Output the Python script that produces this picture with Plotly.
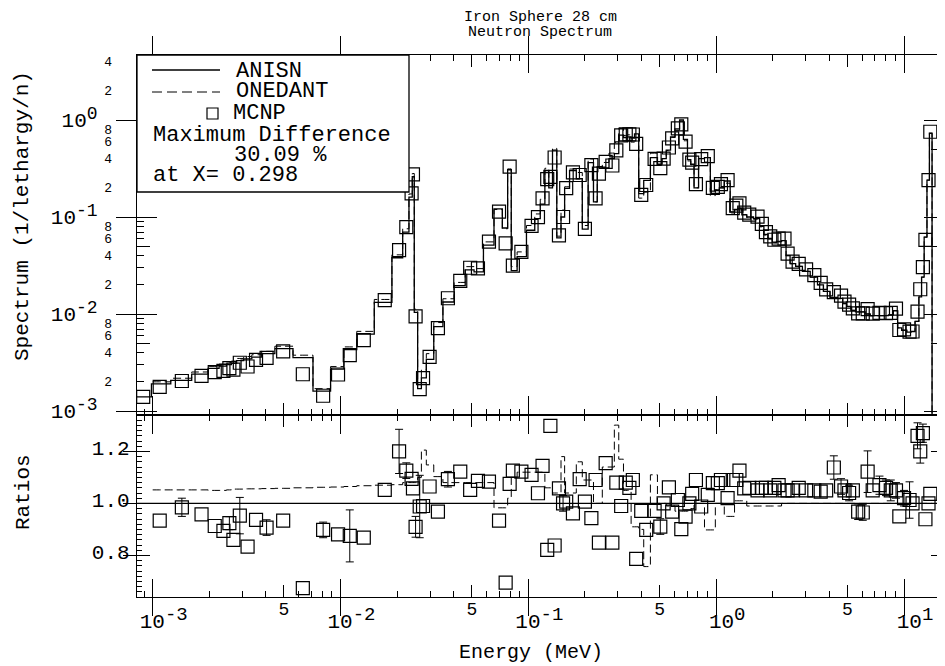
import plotly.graph_objects as go

# ---------------- data ----------------
energy = [8.9e-4, 1.09e-3, 1.43e-3, 1.82e-3, 2.14e-3, 2.38e-3, 2.56e-3, 2.69e-3, 2.91e-3, 3.2e-3,
          3.55e-3, 4.04e-3, 4.95e-3, 6.3e-3, 8.08e-3, 9.7e-3, 1.12e-2, 1.33e-2, 1.72e-2, 2.05e-2,
          2.24e-2, 2.39e-2, 2.43e-2, 2.51e-2, 2.64e-2, 2.75e-2, 2.98e-2, 3.3e-2, 3.73e-2, 4.34e-2,
          4.9e-2, 5.39e-2, 6.17e-2, 6.98e-2, 7.57e-2, 7.95e-2, 8.27e-2, 9.18e-2, 0.104, 0.1125,
          0.119, 0.126, 0.131, 0.138, 0.1455, 0.153, 0.159, 0.1727, 0.1876, 0.2,
          0.2165, 0.228, 0.2375, 0.258, 0.28, 0.294, 0.312, 0.33, 0.345, 0.36,
          0.375, 0.399, 0.424, 0.47, 0.504, 0.525, 0.56, 0.583, 0.625, 0.652,
          0.687, 0.72, 0.745, 0.78, 0.832, 0.902, 0.96, 1.02, 1.06, 1.15,
          1.225, 1.28, 1.33, 1.41, 1.5, 1.66, 1.75, 1.84, 1.94, 2.04,
          2.15, 2.31, 2.4, 2.55, 2.75, 3.01, 3.33, 3.6, 3.85, 4.23,
          4.62, 4.82, 5.1, 5.34, 5.7, 6.03, 6.4, 6.81, 7.4, 8.02,
          8.5, 9.06, 9.44, 10.0, 10.7, 11.1, 11.8, 12.2, 12.6, 13.0,
          13.5, 13.8]

anisn = [1.40e-3, 1.90e-3, 2.07e-3, 2.40e-3, 2.75e-3, 2.90e-3, 3.00e-3, 3.10e-3, 3.30e-3, 3.45e-3,
         3.60e-3, 3.90e-3, 4.40e-3, 3.55e-3, 1.60e-3, 2.70e-3, 4.30e-3, 6.20e-3, 1.32e-2, 3.80e-2,
         7.00e-2, 1.60e-1, 2.60e-1, 1.04e-2, 1.70e-3, 2.20e-3, 3.40e-3, 7.40e-3, 1.33e-2, 1.96e-2,
         2.85e-2, 2.72e-2, 5.13e-2, 1.215e-1, 7.7e-2, 3.07e-1, 2.8e-2, 3.9e-2, 7.3e-2, 9.6e-2,
         1.36e-1, 3.0e-1, 2.0e-1, 4.9e-1, 6.1e-2, 1.0e-1, 1.97e-1, 3.0e-1, 2.48e-1, 7.5e-2,
         3.64e-1, 1.43e-1, 3.3e-1, 3.2e-1, 4.0e-1, 4.5e-1, 7.0e-1, 6.6e-1, 6.7e-1, 6.5e-1,
         7.2e-1, 1.74e-1, 2.38e-1, 4.1e-1, 3.5e-1, 4.0e-1, 4.9e-1, 6.68e-1, 8.1e-1, 1.0,
         6.3e-1, 3.9e-1, 3.5e-1, 2.0e-1, 4.0e-1, 4.1e-1, 1.85e-1, 1.9e-1, 2.0e-1, 2.35e-1,
         1.13e-1, 1.2e-1, 1.23e-1, 1.05e-1, 1.0e-1, 9.6e-2, 8.0e-2, 6.6e-2, 6.0e-2, 5.5e-2,
         5.6e-2, 5.7e-2, 4.0e-2, 3.3e-2, 3.1e-2, 2.75e-2, 2.4e-2, 2.0e-2, 1.71e-2, 1.48e-2,
         1.45e-2, 1.28e-2, 1.2e-2, 1.09e-2, 1.05e-2, 1.05e-2, 1.0e-2, 9.6e-3, 9.6e-3, 9.6e-3,
         9.8e-3, 1.08e-2, 7.2e-3, 6.8e-3, 6.5e-3, 6.6e-3, 8.4e-3, 1.5e-2, 2.4e-2, 6.2e-2,
         2.4e-1, 7.3e-1]

onedant_ratio = [1.052, 1.052, 1.052, 1.052, 1.050, 1.050, 1.052, 1.055, 1.055, 1.056,
                 1.056, 1.057, 1.058, 1.060, 1.062, 1.063, 1.065, 1.068, 1.070, 1.072,
                 1.080, 1.080, 1.080, 1.080, 1.100, 1.205, 1.148, 1.103, 1.080, 1.080,
                 1.080, 1.080, 1.080, 0.983, 0.983, 1.020, 1.100, 1.120, 1.120, 1.120,
                 1.120, 1.060, 1.060, 1.040, 1.040, 1.180, 1.040, 1.040, 1.160, 1.090,
                 1.090, 1.000, 1.000, 1.140, 1.140, 1.301, 1.170, 1.050, 1.050, 0.910,
                 0.910, 0.900, 0.757, 1.110, 1.000, 1.000, 0.990, 0.990, 0.970, 0.970,
                 0.970, 0.970, 0.980, 1.000, 1.000, 0.898, 0.898, 1.000, 1.000, 0.950,
                 0.950, 1.010, 1.010, 1.010, 0.990, 0.990, 0.990, 0.990, 0.990, 0.990,
                 0.990, 1.000, 1.000, 1.000, 1.000, 1.000, 1.000, 1.000, 1.000, 1.000,
                 1.000, 1.000, 1.000, 1.000, 1.000, 1.000, 1.000, 1.000, 1.000, 1.000,
                 1.000, 1.000, 1.000, 1.000, 1.000, 1.000, 1.000, 1.000, 1.000, 1.000,
                 1.000, 1.000]

mcnp_ratio = [None, 0.934, 0.985, 0.958, 0.913, 0.894, 0.924, 0.860, 0.953, 0.834,
              0.937, 0.907, 0.934, 0.674, 0.898, 0.881, 0.875, 0.868, 1.052, 1.200,
              1.126, 1.094, 1.058, 0.910, 0.988, 0.990, 1.065, 0.968, 1.093, 1.122,
              1.052, 1.087, 1.084, 0.934, 0.695, 1.075, 1.126, 1.122, 1.110, 1.039,
              1.144, 0.821, 1.298, 0.838, 1.058, 1.000, 1.007, 0.962, 1.093, 1.007,
              0.943, 1.090, 0.849, 1.155, 0.849, 1.080, 0.990, 1.080, 1.060, 1.090,
              0.787, 0.971, 0.898, 0.971, 0.911, 1.000, 1.062, 0.968, 1.013, 0.901,
              0.949, 1.000, 1.037, 1.090, 0.988, 1.033, 1.078, 1.078, 1.090, 1.020,
              1.090, 1.090, 1.126, 1.058, 1.060, 1.050, 1.060, 1.060, 1.050, 1.060,
              1.070, 1.050, 1.050, 1.050, 1.060, 1.050, 1.050, 1.045, 1.050, 1.138,
              1.065, 1.050, 1.040, 1.050, 0.968, 0.965, 1.122, 1.050, 1.070, 1.060,
              1.050, 1.050, 0.950, 1.020, 1.013, 1.000, 1.260, 1.200, 1.270, 0.939,
              1.000, 1.037]

# error of the MCNP ratio (0 = bar hidden inside the symbol)
mcnp_err = [0, 0, 0.035, 0, 0, 0, 0.025, 0, 0.07, 0,
            0, 0.03, 0, 0, 0.03, 0, 0.10, 0, 0, 0.085,
            0.03, 0, 0, 0.04, 0.12, 0, 0, 0, 0.03, 0,
            0, 0, 0, 0, 0, 0, 0, 0, 0, 0,
            0, 0, 0, 0, 0, 0.03, 0, 0, 0, 0,
            0, 0, 0, 0, 0, 0, 0, 0, 0, 0,
            0, 0, 0, 0, 0.03, 0, 0, 0, 0, 0,
            0, 0, 0, 0, 0, 0, 0, 0, 0, 0,
            0, 0, 0, 0, 0, 0, 0, 0, 0, 0,
            0, 0, 0, 0, 0, 0, 0, 0, 0, 0.045,
            0.03, 0, 0.03, 0, 0.03, 0.03, 0.08, 0, 0.035, 0.03,
            0.04, 0.03, 0, 0.03, 0.07, 0, 0.05, 0.045, 0.035, 0,
            0, 0]

e_left_edge = 8.2e-4      # lowest group lower bound
e_top_edge = 14.1         # highest group upper bound
onedant_start = 1.0e-3    # ONEDANT data lower bound
ratio_reference = 1.0

x_range = [-3.0835, 1.2128]
y_range = [-3.0412, 0.6701]
ratio_range = [0.64, 1.34]

x_decades = [1e-3, 1e-2, 1e-1, 1e0, 1e1]
x_exponents = ["-3", "-2", "-1", "0", "1"]
x_fives = [5e-3, 5e-2, 5e-1, 5e0]
x_minor = [m * d for d in [1e-4, 1e-3, 1e-2, 1e-1, 1e0, 1e1] for m in [2, 3, 4, 6, 7, 8, 9]]

y_decades = [1e-3, 1e-2, 1e-1, 1e0]
y_exponents = ["-3", "-2", "-1", "0"]
y_fives = [5e-4, 5e-3, 5e-2, 5e-1, 5e0]
y_minor = [m * d for d in [1e-4, 1e-3, 1e-2, 1e-1, 1e0] for m in [2, 3, 4, 6, 7, 8, 9]]
y_label_vals = [2e-3, 4e-3, 6e-3, 8e-3, 2e-2, 4e-2, 6e-2, 8e-2, 2e-1, 4e-1, 6e-1, 8e-1, 2e0, 4e0]
y_label_text = ["2", "4", "6", "8", "2", "4", "6", "8", "2", "4", "6", "8", "2", "4"]

ratio_ticks = [0.8, 1.0, 1.2]
ratio_text = ["0.8", "1.0", "1.2"]
ratio_minor = [round(0.64 + 0.02 * i, 2) for i in range(36)]

# ---------------- geometry (page pixels; page body has an 8px margin) ----------------
OFF = 8
W, H = 945 - OFF, 666 - OFF
P_LEFT, P_RIGHT, P_TOP, P_BOTTOM = 137, 944, 55, 597     # plot frame in page pixels
ML, MT = P_LEFT - OFF, P_TOP - OFF
MR = W - (P_RIGHT - OFF)
MB = H - (P_BOTTOM - OFF)
PW, PH = P_RIGHT - P_LEFT, P_BOTTOM - P_TOP
split = 182 / PH
FONT = "Liberation Mono, Courier New, monospace"
BLACK = "black"


def px(xp):
    return (xp - P_LEFT) / PW


def py(yp):
    return (P_BOTTOM - yp) / PH


def sup_label(exp, size):
    return "10<sup><span style='font-size:%dpx'>%s</span></sup>" % (size, exp)


square = dict(symbol="square-open", size=13, color=BLACK, line=dict(width=1.2))
fig = go.Figure()

# ---- top panel ----
x_line = [e_left_edge] + energy + [e_top_edge, e_top_edge]
y_anisn = [anisn[0]] + anisn + [anisn[-1], 1e-8]
fig.add_trace(go.Scatter(x=x_line, y=y_anisn, mode="lines", line=dict(color=BLACK, width=1.3, shape="hvh"),
                         xaxis="x", yaxis="y", hoverinfo="skip", showlegend=False))
onedant_vals = [a * r for a, r in zip(anisn, onedant_ratio)]
x_one = [onedant_start] + energy[1:] + [e_top_edge, e_top_edge]
y_one = [onedant_vals[1]] + onedant_vals[1:] + [onedant_vals[-1], 1e-8]
fig.add_trace(go.Scatter(x=x_one, y=y_one, mode="lines",
                         line=dict(color=BLACK, width=1.0, shape="hvh", dash="8px,4px"),
                         xaxis="x", yaxis="y", hoverinfo="skip", showlegend=False))
mcnp_vals = [a * (r if r is not None else 1.0) for a, r in zip(anisn, mcnp_ratio)]
fig.add_trace(go.Scatter(x=energy, y=mcnp_vals, mode="markers", marker=square,
                         xaxis="x", yaxis="y", hoverinfo="skip", showlegend=False))

# ---- bottom panel ----
fig.add_trace(go.Scatter(x=[e_left_edge, 10 ** x_range[1]], y=[ratio_reference, ratio_reference], mode="lines",
                         line=dict(color=BLACK, width=1.3), xaxis="x2", yaxis="y2",
                         hoverinfo="skip", showlegend=False))
x_r1 = [onedant_start] + energy[1:] + [e_top_edge]
y_r1 = [onedant_ratio[1]] + onedant_ratio[1:] + [onedant_ratio[-1]]
fig.add_trace(go.Scatter(x=x_r1, y=y_r1, mode="lines",
                         line=dict(color=BLACK, width=1.0, shape="hvh", dash="8px,4px"),
                         xaxis="x2", yaxis="y2", hoverinfo="skip", showlegend=False))
# squares whose error bar stays inside the symbol
plain = [(e, r) for e, r, s in zip(energy, mcnp_ratio, mcnp_err) if r is not None and s == 0]
fig.add_trace(go.Scatter(x=[p[0] for p in plain], y=[p[1] for p in plain], mode="markers", marker=square,
                         xaxis="x2", yaxis="y2", hoverinfo="skip", showlegend=False))
# squares with a visible error bar
barred = [(e, r, s) for e, r, s in zip(energy, mcnp_ratio, mcnp_err) if r is not None and s > 0]
fig.add_trace(go.Scatter(x=[p[0] for p in barred], y=[p[1] for p in barred], mode="markers", marker=square,
                         error_y=dict(type="data", array=[p[2] for p in barred], visible=True, color=BLACK,
                                      thickness=1, width=4),
                         xaxis="x2", yaxis="y2", hoverinfo="skip", showlegend=False))

# invisible anchors so every overlay tick axis is drawn
overlay_pairs = [("x3", "y"), ("x5", "y"), ("x4", "y2"), ("x6", "y2"),
                 ("x", "y3"), ("x", "y4"), ("x", "y6"), ("x2", "y5")]
for xa, ya in overlay_pairs:
    fig.add_trace(go.Scatter(x=[energy[40]], y=[1.0 if ya in ("y2", "y5") else anisn[40]], mode="markers",
                             marker=dict(opacity=0, size=1), xaxis=xa, yaxis=ya,
                             hoverinfo="skip", showlegend=False))

tick_common = dict(showgrid=False, zeroline=False, ticks="inside", tickcolor=BLACK, tickwidth=1,
                   mirror="allticks", tickmode="array")
tfont = dict(family=FONT, size=21, color=BLACK)


def ov_axis(kind_log, rng, over, anchor, vals, length, text=None, standoff=0):
    d = dict(range=rng, overlaying=over, anchor=anchor, showline=False, tickvals=vals, ticklen=length,
             **tick_common)
    if kind_log:
        d["type"] = "log"
    if text is None:
        d["showticklabels"] = False
    else:
        d.update(ticktext=text, ticklabelstandoff=standoff, tickfont=tfont)
    return d


fig.update_layout(
    width=W, height=H, margin=dict(l=ML, r=MR, t=MT, b=MB, pad=0, autoexpand=False),
    paper_bgcolor="white", plot_bgcolor="white", showlegend=False,
    xaxis=dict(type="log", range=x_range, domain=[0, 1], anchor="y", showline=True,
               linecolor=BLACK, linewidth=1.3, tickvals=x_decades, ticklen=18,
               showticklabels=False, **tick_common),
    xaxis3=ov_axis(True, x_range, "x", "y", x_fives, 12),
    xaxis5=ov_axis(True, x_range, "x", "y", x_minor, 6),
    xaxis2=dict(type="log", range=x_range, domain=[0, 1], anchor="y2", showline=True,
                linecolor=BLACK, linewidth=1.3, tickvals=x_decades,
                ticktext=[sup_label(e, 19) for e in x_exponents], ticklen=18,
                ticklabelstandoff=5, ticklabelshift=11, tickfont=tfont, **tick_common),
    xaxis4=ov_axis(True, x_range, "x2", "y2", x_fives, 12,
                   text=["<sup><span style='font-size:18px'>5</span></sup>"] * len(x_fives), standoff=5),
    xaxis6=ov_axis(True, x_range, "x2", "y2", x_minor, 6),
    yaxis=dict(type="log", range=y_range, domain=[split, 1], anchor="x", showline=True,
               linecolor=BLACK, linewidth=1.3, tickvals=y_decades,
               ticktext=[sup_label(e, 18) for e in y_exponents], ticklen=20,
               ticklabelstandoff=34, tickfont=tfont, **tick_common),
    yaxis3=ov_axis(True, y_range, "y", "x", y_fives, 13),
    yaxis6=ov_axis(True, y_range, "y", "x", y_minor, 7),
    yaxis4=dict(type="log", range=y_range, overlaying="y", anchor="x", showline=False,
                tickmode="array", tickvals=y_label_vals, ticktext=y_label_text,
                showgrid=False, zeroline=False, ticks="", ticklabelstandoff=24,
                tickfont=dict(family=FONT, size=13, color=BLACK)),
    yaxis2=dict(range=ratio_range, domain=[0, split], anchor="x2", showline=True,
                linecolor=BLACK, linewidth=1.3, tickvals=ratio_ticks, ticktext=ratio_text, ticklen=13,
                ticklabelstandoff=2, ticklabelshift=-4, tickfont=tfont, **tick_common),
    yaxis5=ov_axis(False, ratio_range, "y2", "x2", ratio_minor, 5),
)

# ---- legend box (drawn over the data like the original) ----
shapes = [
    dict(type="rect", xref="paper", yref="paper", x0=px(P_LEFT), x1=px(409), y0=py(192), y1=py(P_TOP),
         line=dict(color=BLACK, width=1.3), fillcolor="white", layer="above"),
    dict(type="line", xref="paper", yref="paper", x0=px(152), x1=px(220), y0=py(70), y1=py(70),
         line=dict(color=BLACK, width=1.3), layer="above"),
    dict(type="line", xref="paper", yref="paper", x0=px(152), x1=px(220), y0=py(92), y1=py(92),
         line=dict(color=BLACK, width=1.0, dash="10px,5px"), layer="above"),
    dict(type="rect", xref="paper", yref="paper", x0=px(207), x1=px(218), y0=py(119), y1=py(108),
         line=dict(color=BLACK, width=1.2), fillcolor="white", layer="above"),
]
fig.update_layout(shapes=shapes)

legend_font = dict(family=FONT, size=22, color=BLACK)
legend_rows = [("ANISN", 234, 71), ("ONEDANT", 234, 92), ("MCNP", 231, 113),
               ("Maximum Difference", 151, 135), ("30.09 %", 232, 155), ("at X= 0.298", 151, 175)]
annotations = [dict(text=t, x=px(xp), y=py(yp), xref="paper", yref="paper", xanchor="left",
                    yanchor="middle", showarrow=False, font=legend_font) for t, xp, yp in legend_rows]

annotations += [
    dict(text="Iron Sphere 28 cm", x=px(540), y=py(17), xref="paper", yref="paper", xanchor="center",
         yanchor="middle", showarrow=False, font=dict(family=FONT, size=15, color=BLACK)),
    dict(text="Neutron Spectrum", x=px(540), y=py(32), xref="paper", yref="paper", xanchor="center",
         yanchor="middle", showarrow=False, font=dict(family=FONT, size=15, color=BLACK)),
    dict(text="Energy (MeV)", x=px(531), y=py(652), xref="paper", yref="paper", xanchor="center",
         yanchor="middle", showarrow=False, font=dict(family=FONT, size=20, color=BLACK)),
    dict(text="Spectrum (1/lethargy/n)", x=px(23), y=py(216), xref="paper", yref="paper",
         xanchor="center", yanchor="middle", textangle=-90, showarrow=False,
         font=dict(family=FONT, size=21, color=BLACK)),
    dict(text="Ratios", x=px(23), y=py(492), xref="paper", yref="paper",
         xanchor="center", yanchor="middle", textangle=-90, showarrow=False,
         font=dict(family=FONT, size=21, color=BLACK)),
]
fig.update_layout(annotations=annotations)

fig.write_html("out.html")
